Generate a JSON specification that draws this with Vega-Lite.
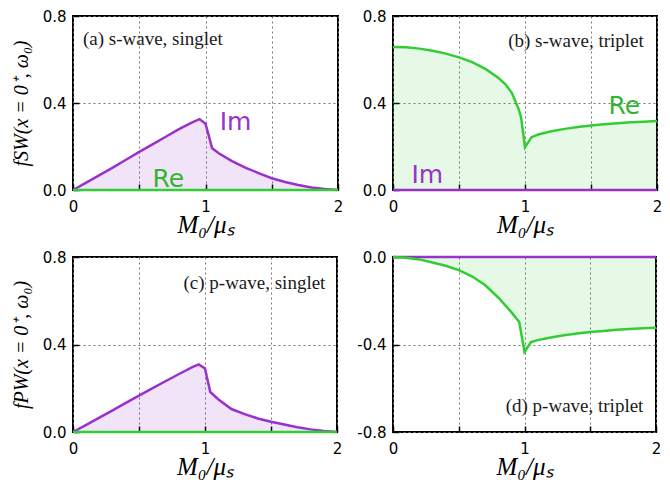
{
  "$schema": "https://vega.github.io/schema/vega-lite/v6.json",
  "padding": {"left": 10, "top": 8, "right": 5, "bottom": 5},
  "background": "white",
  "columns": 1,
  "spacing": 11,
  "datasets": {
    "a": [
      {"x": 0, "y": 0}, {"x": 0.1, "y": 0.034}, {"x": 0.2, "y": 0.068}, {"x": 0.3, "y": 0.103},
      {"x": 0.4, "y": 0.139}, {"x": 0.5, "y": 0.175}, {"x": 0.6, "y": 0.21}, {"x": 0.7, "y": 0.245},
      {"x": 0.8, "y": 0.28}, {"x": 0.9, "y": 0.311}, {"x": 0.955, "y": 0.326}, {"x": 1.0, "y": 0.305},
      {"x": 1.02, "y": 0.26}, {"x": 1.05, "y": 0.192}, {"x": 1.1, "y": 0.169}, {"x": 1.2, "y": 0.133},
      {"x": 1.3, "y": 0.103}, {"x": 1.4, "y": 0.078}, {"x": 1.5, "y": 0.054}, {"x": 1.6, "y": 0.037},
      {"x": 1.7, "y": 0.023}, {"x": 1.8, "y": 0.012}, {"x": 1.9, "y": 0.005}, {"x": 2.0, "y": 0.0}
    ],
    "b": [
      {"x": 0, "y": 0.658}, {"x": 0.1, "y": 0.656}, {"x": 0.2, "y": 0.65}, {"x": 0.3, "y": 0.64},
      {"x": 0.4, "y": 0.627}, {"x": 0.5, "y": 0.61}, {"x": 0.6, "y": 0.588}, {"x": 0.7, "y": 0.557},
      {"x": 0.8, "y": 0.515}, {"x": 0.85, "y": 0.487}, {"x": 0.9, "y": 0.447}, {"x": 0.95, "y": 0.375},
      {"x": 0.97, "y": 0.335}, {"x": 1.0, "y": 0.197}, {"x": 1.05, "y": 0.243}, {"x": 1.1, "y": 0.255},
      {"x": 1.2, "y": 0.27}, {"x": 1.3, "y": 0.281}, {"x": 1.4, "y": 0.29}, {"x": 1.5, "y": 0.297},
      {"x": 1.6, "y": 0.302}, {"x": 1.7, "y": 0.307}, {"x": 1.8, "y": 0.311}, {"x": 1.9, "y": 0.314},
      {"x": 2.0, "y": 0.317}
    ],
    "c": [
      {"x": 0, "y": 0}, {"x": 0.1, "y": 0.033}, {"x": 0.2, "y": 0.066}, {"x": 0.3, "y": 0.099},
      {"x": 0.4, "y": 0.133}, {"x": 0.5, "y": 0.166}, {"x": 0.6, "y": 0.199}, {"x": 0.7, "y": 0.232},
      {"x": 0.8, "y": 0.264}, {"x": 0.9, "y": 0.295}, {"x": 0.952, "y": 0.309}, {"x": 1.0, "y": 0.29},
      {"x": 1.04, "y": 0.183}, {"x": 1.1, "y": 0.15}, {"x": 1.2, "y": 0.105}, {"x": 1.3, "y": 0.082},
      {"x": 1.4, "y": 0.062}, {"x": 1.5, "y": 0.047}, {"x": 1.6, "y": 0.034}, {"x": 1.7, "y": 0.022},
      {"x": 1.8, "y": 0.012}, {"x": 1.9, "y": 0.005}, {"x": 2.0, "y": 0.0}
    ],
    "d": [
      {"x": 0, "y": 0}, {"x": 0.1, "y": -0.003}, {"x": 0.2, "y": -0.011}, {"x": 0.3, "y": -0.025},
      {"x": 0.4, "y": -0.04}, {"x": 0.5, "y": -0.06}, {"x": 0.6, "y": -0.088}, {"x": 0.7, "y": -0.128},
      {"x": 0.8, "y": -0.185}, {"x": 0.9, "y": -0.252}, {"x": 0.96, "y": -0.297}, {"x": 1.0, "y": -0.434},
      {"x": 1.05, "y": -0.389}, {"x": 1.1, "y": -0.38}, {"x": 1.2, "y": -0.368}, {"x": 1.3, "y": -0.358},
      {"x": 1.4, "y": -0.35}, {"x": 1.5, "y": -0.343}, {"x": 1.6, "y": -0.338}, {"x": 1.7, "y": -0.333},
      {"x": 1.8, "y": -0.329}, {"x": 1.9, "y": -0.326}, {"x": 2.0, "y": -0.323}
    ],
    "zero": [{"x": 0, "y": 0}, {"x": 2, "y": 0}]
  },
  "config": {
    "view": {"stroke": "black", "strokeWidth": 2},
    "axis": {
      "domain": false,
      "grid": true,
      "gridColor": "#777777",
      "gridDash": [2, 3],
      "gridWidth": 1,
      "labelFont": "DejaVu Sans",
      "labelFontSize": 15,
      "labelColor": "black",
      "tickColor": "black",
      "tickSize": -6,
      "tickWidth": 1.5,
      "titleFont": "Liberation Serif",
      "titleFontStyle": "italic",
      "titleFontWeight": "normal",
      "titleColor": "black"
    },
    "axisX": {"labelPadding": 15, "labelFlush": false, "labelOverlap": false, "titleFontSize": 25, "titleBaseline": "alphabetic", "titlePadding": 18},
    "axisY": {"labelPadding": 13, "titleFontSize": 20, "titleBaseline": "alphabetic", "titlePadding": 15},
    "text": {"baseline": "alphabetic"}
  },
  "concat": [
    {
      "spacing": 17,
      "hconcat": [
        {
          "width": 265, "height": 174,
          "encoding": {
            "x": {"field": "x", "type": "quantitative", "scale": {"domain": [0, 2], "nice": false},
                  "axis": {"values": [0, 0.5, 1, 1.5, 2], "labelExpr": "datum.value == 0.5 || datum.value == 1.5 ? '' : format(datum.value, 'd')", "title": "M₀/μₛ"}},
            "y": {"field": "y", "type": "quantitative", "scale": {"domain": [0, 0.8], "nice": false},
                  "axis": {"values": [0, 0.4, 0.8], "format": ".1f", "title": "fSW(x = 0⁺, ω₀)"}}
          },
          "layer": [
            {"data": {"name": "a"}, "mark": {"type": "area", "color": "#9932cc", "opacity": 0.13}},
            {"data": {"name": "a"}, "mark": {"type": "line", "color": "#9932cc", "strokeWidth": 2.5}},
            {"data": {"name": "zero"}, "mark": {"type": "line", "color": "#32cd32", "strokeWidth": 2.5}},
            {"data": {"values": [{"x": 0.6, "y": 0.015, "label": "Re"}]},
             "mark": {"type": "text", "align": "left", "font": "DejaVu Sans", "fontSize": 25, "color": "#32b432"},
             "encoding": {"text": {"field": "label"}}},
            {"data": {"values": [{"x": 1.107, "y": 0.276, "label": "Im"}]},
             "mark": {"type": "text", "align": "left", "font": "DejaVu Sans", "fontSize": 25, "color": "#9932cc"},
             "encoding": {"text": {"field": "label"}}},
            {"data": {"values": [{"x": 0.075, "y": 0.667, "label": "(a) s-wave, singlet"}]},
             "mark": {"type": "text", "align": "left", "font": "Liberation Serif", "fontSize": 19, "color": "#1a1a1a"},
             "encoding": {"text": {"field": "label"}}}
          ]
        },
        {
          "width": 264, "height": 174,
          "encoding": {
            "x": {"field": "x", "type": "quantitative", "scale": {"domain": [0, 2], "nice": false},
                  "axis": {"values": [0, 0.5, 1, 1.5, 2], "labelExpr": "datum.value == 0.5 || datum.value == 1.5 ? '' : format(datum.value, 'd')", "title": "M₀/μₛ"}},
            "y": {"field": "y", "type": "quantitative", "scale": {"domain": [0, 0.8], "nice": false},
                  "axis": {"values": [0, 0.4, 0.8], "format": ".1f", "title": null}}
          },
          "layer": [
            {"data": {"name": "b"}, "mark": {"type": "area", "color": "#32cd32", "opacity": 0.12}},
            {"data": {"name": "b"}, "mark": {"type": "line", "color": "#32cd32", "strokeWidth": 2.5}},
            {"data": {"name": "zero"}, "mark": {"type": "line", "color": "#9932cc", "strokeWidth": 2.5}},
            {"data": {"values": [{"x": 1.633, "y": 0.35, "label": "Re"}]},
             "mark": {"type": "text", "align": "left", "font": "DejaVu Sans", "fontSize": 25, "color": "#32b432"},
             "encoding": {"text": {"field": "label"}}},
            {"data": {"values": [{"x": 0.14, "y": 0.03, "label": "Im"}]},
             "mark": {"type": "text", "align": "left", "font": "DejaVu Sans", "fontSize": 25, "color": "#9932cc"},
             "encoding": {"text": {"field": "label"}}},
            {"data": {"values": [{"x": 1.9, "y": 0.658, "label": "(b) s-wave, triplet"}]},
             "mark": {"type": "text", "align": "right", "font": "Liberation Serif", "fontSize": 19, "color": "#1a1a1a"},
             "encoding": {"text": {"field": "label"}}}
          ]
        }
      ]
    },
    {
      "spacing": 12,
      "hconcat": [
        {
          "width": 264, "height": 175,
          "encoding": {
            "x": {"field": "x", "type": "quantitative", "scale": {"domain": [0, 2], "nice": false},
                  "axis": {"values": [0, 0.5, 1, 1.5, 2], "labelExpr": "datum.value == 0.5 || datum.value == 1.5 ? '' : format(datum.value, 'd')", "title": "M₀/μₛ"}},
            "y": {"field": "y", "type": "quantitative", "scale": {"domain": [0, 0.8], "nice": false},
                  "axis": {"values": [0, 0.4, 0.8], "format": ".1f", "title": "fPW(x = 0⁺, ω₀)"}}
          },
          "layer": [
            {"data": {"name": "c"}, "mark": {"type": "area", "color": "#9932cc", "opacity": 0.13}},
            {"data": {"name": "c"}, "mark": {"type": "line", "color": "#9932cc", "strokeWidth": 2.5}},
            {"data": {"name": "zero"}, "mark": {"type": "line", "color": "#32cd32", "strokeWidth": 2.5}},
            {"data": {"values": [{"x": 1.912, "y": 0.655, "label": "(c) p-wave, singlet"}]},
             "mark": {"type": "text", "align": "right", "font": "Liberation Serif", "fontSize": 19, "color": "#1a1a1a"},
             "encoding": {"text": {"field": "label"}}}
          ]
        },
        {
          "width": 263, "height": 175,
          "encoding": {
            "x": {"field": "x", "type": "quantitative", "scale": {"domain": [0, 2], "nice": false},
                  "axis": {"values": [0, 0.5, 1, 1.5, 2], "labelExpr": "datum.value == 0.5 || datum.value == 1.5 ? '' : format(datum.value, 'd')", "title": "M₀/μₛ"}},
            "y": {"field": "y", "type": "quantitative", "scale": {"domain": [-0.8, 0], "nice": false},
                  "axis": {"values": [-0.8, -0.4, 0], "labelExpr": "replace(format(datum.value, '.1f'), '−', '-')", "title": null}}
          },
          "layer": [
            {"data": {"name": "d"}, "mark": {"type": "area", "color": "#32cd32", "opacity": 0.12}},
            {"data": {"name": "zero"}, "mark": {"type": "line", "color": "#9932cc", "strokeWidth": 2.5}},
            {"data": {"name": "d"}, "mark": {"type": "line", "color": "#32cd32", "strokeWidth": 2.5}},
            {"data": {"values": [{"x": 1.904, "y": -0.709, "label": "(d) p-wave, triplet"}]},
             "mark": {"type": "text", "align": "right", "font": "Liberation Serif", "fontSize": 19, "color": "#1a1a1a"},
             "encoding": {"text": {"field": "label"}}}
          ]
        }
      ]
    }
  ]
}
